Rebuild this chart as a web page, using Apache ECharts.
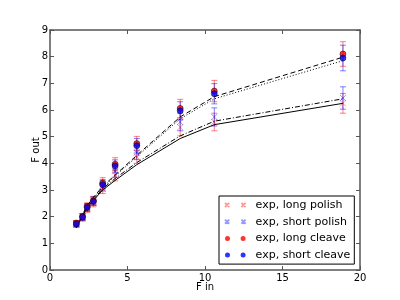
<!DOCTYPE html>
<html>
<head>
<meta charset="utf-8">
<script src="https://cdn.jsdelivr.net/npm/echarts@6/dist/echarts.min.js"></script>
<style>html,body{margin:0;padding:0;background:#fff}#c{width:400px;height:300px}</style>
</head>
<body>
<div id="c"></div>
<script>
// ---- data ----
const fIn = [1.7, 2.1, 2.4, 2.8, 3.4, 4.2, 5.6, 8.4, 10.6, 18.9];

const longPolish     = [1.70, 1.95, 2.30, 2.52, 3.05, 3.55, 4.25, 5.35, 5.55, 6.25];
const longPolishErr  = [0.10, 0.12, 0.14, 0.15, 0.18, 0.21, 0.25, 0.32, 0.33, 0.37];
const shortPolish    = [1.75, 2.00, 2.35, 2.60, 3.15, 3.70, 4.40, 5.55, 5.74, 6.45];
const shortPolishErr = [0.10, 0.12, 0.14, 0.16, 0.19, 0.22, 0.26, 0.33, 0.34, 0.42];
const longCleave     = [1.76, 2.00, 2.38, 2.60, 3.26, 3.97, 4.74, 6.06, 6.71, 8.10];
const longCleaveErr  = [0.10, 0.12, 0.14, 0.16, 0.20, 0.24, 0.27, 0.34, 0.40, 0.46];
const shortCleave    = [1.72, 1.98, 2.34, 2.57, 3.20, 3.90, 4.66, 5.97, 6.61, 7.95];
const shortCleaveErr = [0.10, 0.12, 0.14, 0.15, 0.19, 0.23, 0.27, 0.34, 0.38, 0.48];

// model curves
const lineSolid   = [1.58, 2.03, 2.33, 2.61, 3.00, 3.36, 3.95, 4.93, 5.45, 6.25];
const lineDashDot = [1.60, 2.06, 2.37, 2.65, 3.05, 3.43, 4.03, 5.03, 5.58, 6.42];
const lineDashed  = [1.62, 2.08, 2.42, 2.72, 3.14, 3.56, 4.30, 5.74, 6.50, 7.98];
const lineDotted  = [1.60, 2.06, 2.40, 2.70, 3.10, 3.52, 4.25, 5.67, 6.42, 7.85];

const seriesNames = ['exp, long polish', 'exp, short polish', 'exp, long cleave', 'exp, short cleave'];
const xTickMin = 0, xTickMax = 20, xTickStep = 5;
const yTickMin = 0, yTickMax = 9, yTickStep = 1;

// ---- chart ----
const FONT = 'DejaVu Sans';
const chart = echarts.init(document.getElementById('c'), null, {renderer: 'canvas'});
const pts = (ys) => fIn.map((x, i) => [x, ys[i]]);
const errPts = (ys, es) => fIn.map((x, i) => [x, ys[i], es[i]]);

const RED_A = 'rgba(255,0,0,0.5)';
const BLUE_A = 'rgba(0,0,255,0.5)';
const CROSS = 'path://M0,0L10,10M10,0L0,10';
const CROSS2 = 'path://M0.5,0.5L4.5,4.5M4.5,0.5L0.5,4.5M16.1,0.5L20.1,4.5M20.1,0.5L16.1,4.5';
const DOT2 = 'path://M0,2.5A2.5,2.5 0 1,1 5,2.5A2.5,2.5 0 1,1 0,2.5ZM15.6,2.5A2.5,2.5 0 1,1 20.6,2.5A2.5,2.5 0 1,1 15.6,2.5Z';

function errSeries(ys, es, color) {
  return {
    type: 'custom',
    silent: true,
    data: errPts(ys, es),
    renderItem: function (params, api) {
      const x = api.value(0), y = api.value(1), e = api.value(2);
      const top = api.coord([x, y + e]);
      const bot = api.coord([x, y - e]);
      const w = 3;
      const st = {stroke: color, lineWidth: 1};
      return {
        type: 'group',
        children: [
          {type: 'line', shape: {x1: top[0], y1: top[1], x2: bot[0], y2: bot[1]}, style: st},
          {type: 'line', shape: {x1: top[0] - w, y1: top[1], x2: top[0] + w, y2: top[1]}, style: st},
          {type: 'line', shape: {x1: bot[0] - w, y1: bot[1], x2: bot[0] + w, y2: bot[1]}, style: st}
        ]
      };
    },
    z: 2
  };
}

function modelLine(ys, type) {
  return {
    type: 'line', data: pts(ys), symbol: 'none', silent: true,
    lineStyle: {color: '#000', width: 1, type: type},
    z: 3
  };
}

const axisCommon = {
  axisLine: {show: true, onZero: false, lineStyle: {color: '#555', width: 1.5}},
  axisTick: {show: true, inside: true, length: 4, lineStyle: {color: '#555', width: 1}},
  splitLine: {show: false}
};

chart.setOption({
  animation: false,
  backgroundColor: '#fff',
  grid: {left: 50, right: 40, top: 30, bottom: 30, containLabel: false},
  xAxis: [
    Object.assign({
      type: 'value', min: xTickMin, max: xTickMax, interval: xTickStep, position: 'bottom',
      name: 'F in', nameLocation: 'middle', nameGap: 12, nameMoveOverlap: false,
      nameTextStyle: {fontFamily: FONT, fontSize: 10, color: '#000'},
      axisLabel: {fontFamily: FONT, fontSize: 10, color: '#000', margin: 3}
    }, axisCommon),
    Object.assign({
      type: 'value', min: xTickMin, max: xTickMax, interval: xTickStep, position: 'top',
      axisLabel: {show: false}
    }, axisCommon)
  ],
  yAxis: [
    Object.assign({
      type: 'value', min: yTickMin, max: yTickMax, interval: yTickStep, position: 'left',
      name: 'F out', nameLocation: 'middle', nameGap: 9, nameRotate: 90, nameMoveOverlap: false,
      nameTextStyle: {fontFamily: FONT, fontSize: 10, color: '#000'},
      axisLabel: {fontFamily: FONT, fontSize: 10, color: '#000', margin: 2}
    }, axisCommon),
    Object.assign({
      type: 'value', min: yTickMin, max: yTickMax, interval: yTickStep, position: 'right',
      axisLabel: {show: false}
    }, axisCommon)
  ],
  legend: {
    orient: 'vertical',
    left: 219, top: 196,
    padding: [3, 4, 3, 5],
    itemGap: 4.7,
    itemWidth: 20.6, itemHeight: 5,
    selectedMode: false,
    backgroundColor: '#fff',
    borderColor: '#000', borderWidth: 1, borderRadius: 0,
    textStyle: {fontFamily: FONT, fontSize: 11, color: '#000', lineHeight: 12, padding: [0, 0, 0, 5]},
    data: [
      {name: seriesNames[0], icon: CROSS2},
      {name: seriesNames[1], icon: CROSS2},
      {name: seriesNames[2], icon: DOT2, itemStyle: {borderWidth: 0}},
      {name: seriesNames[3], icon: DOT2, itemStyle: {borderWidth: 0}}
    ]
  },
  series: [
    errSeries(longPolish, longPolishErr, RED_A),
    errSeries(shortPolish, shortPolishErr, BLUE_A),
    errSeries(longCleave, longCleaveErr, RED_A),
    errSeries(shortCleave, shortCleaveErr, BLUE_A),
    modelLine(lineSolid, 'solid'),
    modelLine(lineDashDot, [5, 2, 1, 2]),
    modelLine(lineDashed, [5, 3]),
    modelLine(lineDotted, [1, 2]),
    {
      name: seriesNames[0], type: 'scatter', data: pts(longPolish),
      symbol: CROSS, symbolSize: 6,
      itemStyle: {color: 'rgba(0,0,0,0)', borderColor: RED_A, borderWidth: 1}, z: 4
    },
    {
      name: seriesNames[1], type: 'scatter', data: pts(shortPolish),
      symbol: CROSS, symbolSize: 6,
      itemStyle: {color: 'rgba(0,0,0,0)', borderColor: BLUE_A, borderWidth: 1}, z: 4
    },
    {
      name: seriesNames[2], type: 'scatter', data: pts(longCleave),
      symbol: 'circle', symbolSize: 6,
      itemStyle: {color: '#ff0000', borderColor: '#000', borderWidth: 0.6}, z: 5
    },
    {
      name: seriesNames[3], type: 'scatter', data: pts(shortCleave),
      symbol: 'circle', symbolSize: 6,
      itemStyle: {color: '#0000ff', borderColor: '#000', borderWidth: 0.6}, z: 5
    }
  ]
});
</script>
</body>
</html>
